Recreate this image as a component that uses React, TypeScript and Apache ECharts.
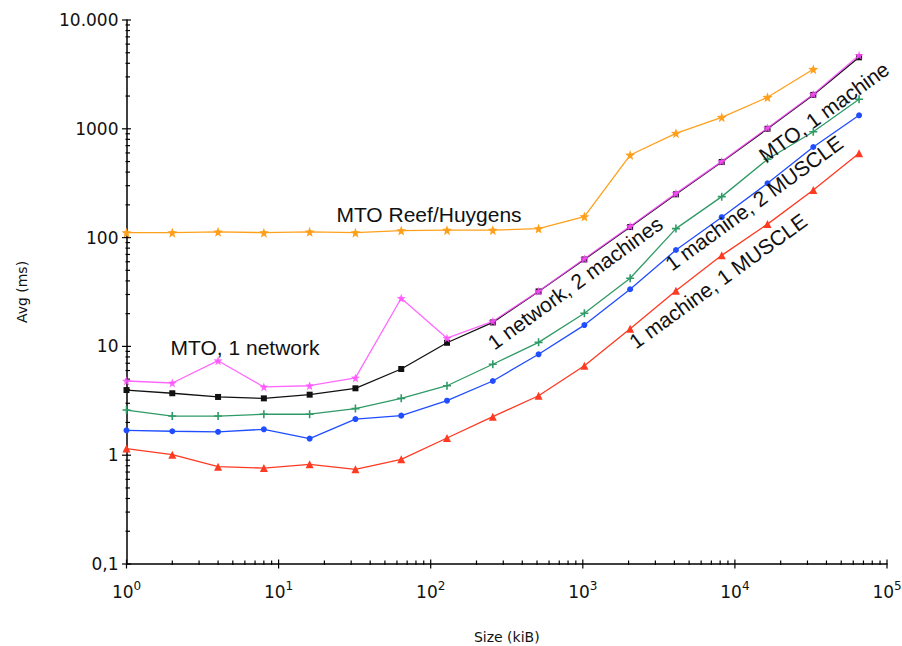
import React, { useEffect, useRef } from "react";
import * as echarts from "echarts";

const sizes = [1, 2, 4, 8, 16, 32, 64, 128, 256, 512, 1024, 2048, 4096, 8192, 16384, 32768, 65536];

const reefHuygens = [111, 111, 113, 111, 113, 111, 116, 117, 117, 121, 156, 574, 909, 1276, 1947, 3524];
const oneNetwork = [4.81, 4.61, 7.39, 4.24, 4.35, 5.13, 27.7, 11.9, 17.0, 32.1, 64, 127, 255, 502, 1017, 2075, 4735];
const oneMachine = [3.97, 3.71, 3.43, 3.33, 3.6, 4.12, 6.2, 10.8, 16.6, 32, 63, 125, 250, 495, 1000, 2050, 4540];
const netTwoMachines = [2.6, 2.29, 2.29, 2.38, 2.38, 2.68, 3.33, 4.35, 6.85, 10.9, 20.2, 42.3, 121, 238, 525, 940, 1867];
const machineTwoMuscle = [1.69, 1.66, 1.64, 1.73, 1.42, 2.15, 2.31, 3.17, 4.81, 8.46, 15.7, 33.5, 76.9, 154, 316, 680, 1331];
const machineOneMuscle = [1.15, 1.01, 0.784, 0.762, 0.825, 0.742, 0.917, 1.44, 2.26, 3.52, 6.65, 14.5, 32.5, 68.7, 133, 274, 595];

const yTickLabels: Record<string, string> = {
  "0.1": "0,1",
  "1": "1",
  "10": "10",
  "100": "100",
  "1000": "1000",
  "10000": "10.000",
};

const xDecades = [1, 10, 100, 1000, 10000];
const yDecades = [0.1, 1, 10, 100, 1000];
const mantissas = [2, 3, 4, 5, 6, 7, 8, 9];

const STAR = "path://M5,0L6.2,3.4L10,3.8L7,6.2L8,10L5,7.8L2,10L3,6.2L0,3.8L3.8,3.4Z";
const PLUS = "path://M4,0h2v4h4v2h-4v4h-2v-4h-4v-2h4z";

const TEXT_FONT = "'Liberation Sans', Arial, Helvetica, sans-serif";
const AXIS_FONT = "'DejaVu Sans', 'Lucida Grande', sans-serif";
const ANGLE = (36 * Math.PI) / 180;

function pair(vals: number[]) {
  return vals.map((v, i) => [sizes[i], v]);
}

export default function App() {
  const ref = useRef<HTMLDivElement>(null);
  useEffect(() => {
    if (!ref.current) return;
    const chart = echarts.init(ref.current, null, { renderer: "svg" });

    const xMinor: number[][] = [];
    xDecades.forEach((d) => mantissas.forEach((m) => xMinor.push([d * m, 0.1, 0])));
    [1, 10, 100, 1000, 10000, 100000].forEach((d) => xMinor.push([d, 0.1, 1]));
    const yMinor: number[][] = [];
    yDecades.forEach((d) => mantissas.forEach((m) => yMinor.push([1, d * m, 0])));
    [0.1, 1, 10, 100, 1000, 10000].forEach((d) => yMinor.push([1, d, 1]));

    const lineSeries = (name: string, data: number[], color: string, symbol: string, size: number, z: number, opacity = 1) => ({
      name,
      type: "line",
      data: pair(data),
      symbol,
      symbolSize: size,
      z,
      lineStyle: { color, width: 1.3, opacity },
      itemStyle: { color, opacity },
      clip: false,
    });

    const label = (text: string, x: number, y: number, rotation = 0) => ({
      type: "text",
      x,
      y,
      rotation,
      z: 10,
      style: { text, font: `21px ${TEXT_FONT}`, fill: "#111", align: "center", verticalAlign: "middle" },
    });

    chart.setOption({
      animation: false,
      backgroundColor: "#ffffff",
      grid: { left: 126.5, right: 15, top: 20, bottom: 82, containLabel: false, outerBoundsMode: "none" },
      xAxis: {
        type: "log",
        logBase: 10,
        min: 1,
        max: 100000,
        name: "Size (kiB)",
        nameLocation: "middle",
        nameGap: 66,
        nameTextStyle: { fontFamily: AXIS_FONT, fontSize: 14, color: "#111" },
        axisLine: { lineStyle: { color: "#000", width: 1.5 } },
        axisTick: { show: false },
        splitLine: { show: false },
        axisLabel: {
          margin: 16,
          color: "#111",
          formatter: (v: number) => `{b|10}{s|${Math.round(Math.log10(v))}}`,
          rich: {
            b: { fontFamily: AXIS_FONT, fontSize: 17, color: "#111", lineHeight: 20, verticalAlign: "bottom" },
            s: { fontFamily: AXIS_FONT, fontSize: 12, color: "#111", lineHeight: 12, verticalAlign: "top" },
          },
        },
      },
      yAxis: {
        type: "log",
        logBase: 10,
        min: 0.1,
        max: 10000,
        name: "Avg (ms)",
        nameLocation: "middle",
        nameGap: 98,
        nameRotate: 90,
        nameTextStyle: { fontFamily: AXIS_FONT, fontSize: 14, color: "#111" },
        axisLine: { show: true, lineStyle: { color: "#000", width: 1.5 } },
        axisTick: { show: false },
        splitLine: { show: false },
        axisLabel: {
          margin: 8,
          fontFamily: AXIS_FONT,
          fontSize: 17,
          color: "#111",
          formatter: (v: number) => yTickLabels[String(+v.toPrecision(6))] ?? String(v),
        },
      },
      series: [
        {
          type: "custom",
          data: xMinor,
          clip: false,
          silent: true,
          z: 1,
          renderItem: (params: any, api: any) => {
            const p = api.coord([api.value(0), api.value(1)]);
            const major = api.value(2) === 1;
            return {
              type: "line",
              shape: { x1: p[0], y1: p[1] - (major ? 4.5 : 3.5), x2: p[0], y2: p[1] + (major ? 4.5 : 1) },
              style: { stroke: "#000", lineWidth: 1.2 },
            };
          },
        },
        {
          type: "custom",
          data: yMinor,
          clip: false,
          silent: true,
          z: 1,
          renderItem: (params: any, api: any) => {
            const p = api.coord([api.value(0), api.value(1)]);
            const major = api.value(2) === 1;
            return {
              type: "line",
              shape: { x1: p[0] - (major ? 4.5 : 1), y1: p[1], x2: p[0] + (major ? 4.5 : 3.5), y2: p[1] },
              style: { stroke: "#000", lineWidth: 1.2 },
            };
          },
        },
        lineSeries("MTO Reef/Huygens", reefHuygens, "#ffa01c", STAR, 10, 3),
        lineSeries("MTO, 1 machine", oneMachine, "#111111", "rect", 6, 3),
        lineSeries("MTO, 1 network", oneNetwork, "#ff4dff", STAR, 9, 4, 0.85),
        lineSeries("1 network, 2 machines", netTwoMachines, "#2f9a66", PLUS, 8, 3),
        lineSeries("1 machine, 2 MUSCLE", machineTwoMuscle, "#1f4dff", "circle", 6, 3),
        lineSeries("1 machine, 1 MUSCLE", machineOneMuscle, "#ff3a22", "triangle", 8, 3),
      ],
      graphic: [
        label("MTO Reef/Huygens", 429, 214),
        label("MTO, 1 network", 245, 347),
        label("1 network, 2 machines", 575, 283, ANGLE),
        label("MTO, 1 machine", 824, 112, ANGLE),
        label("1 machine, 2 MUSCLE", 754, 203, ANGLE),
        label("1 machine, 1 MUSCLE", 718, 281, ANGLE),
      ],
    });
    return () => chart.dispose();
  }, []);
  return <div ref={ref} style={{ position: "fixed", left: 0, top: 0, width: 902, height: 646 }} />;
}
